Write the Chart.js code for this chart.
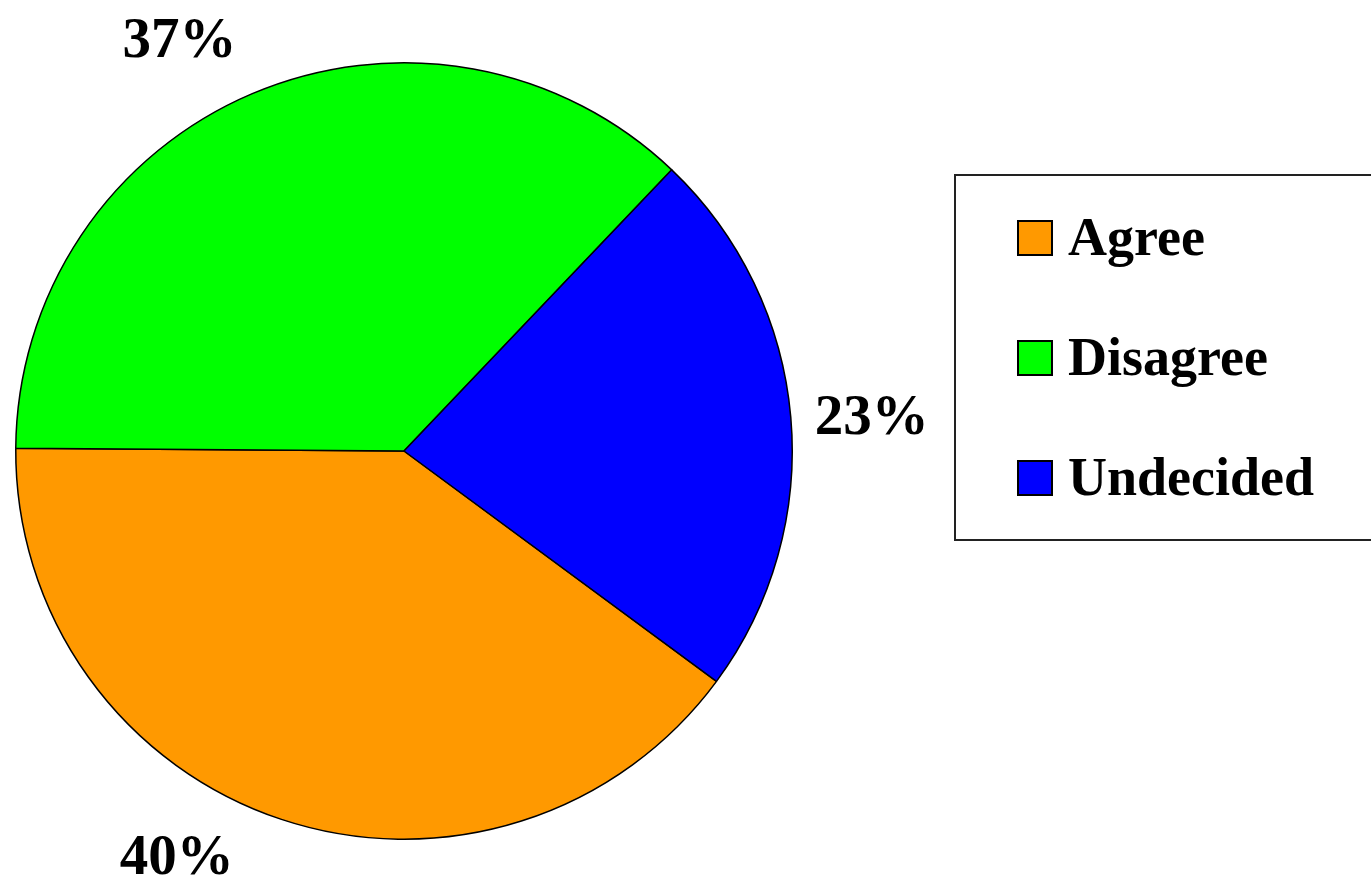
<!DOCTYPE html>
<html>
<head>
<meta charset="utf-8">
<script src="https://cdn.jsdelivr.net/npm/chart.js@4"></script>
<style>
  html, body { margin: 0; padding: 0; background: #ffffff; }
  #wrap { width: 1371px; height: 883px; }
</style>
</head>
<body>
<div id="wrap"><canvas id="pie" width="1371" height="883"></canvas></div>
<script>
// data
const categories = ["Agree", "Disagree", "Undecided"];
const shares = [40, 37, 23];
const colors = ["#ff9900", "#00ff00", "#0000ff"];

const labelFont = "bold 57px 'Liberation Serif', 'Times New Roman', serif";
const legendFont = "bold 54px 'Liberation Serif', 'Times New Roman', serif";

// percent labels outside each slice
const outsideLabels = {
  id: "outsideLabels",
  afterDraw(chart) {
    const ctx = chart.ctx;
    const meta = chart.getDatasetMeta(0);
    ctx.save();
    ctx.font = labelFont;
    ctx.fillStyle = "#000000";
    ctx.textBaseline = "middle";
    meta.data.forEach((arc, i) => {
      const p = arc.getProps(["x", "y", "startAngle", "endAngle", "outerRadius"], true);
      const mid = (p.startAngle + p.endAngle) / 2;
      const d = p.outerRadius + 30;
      const cx = Math.cos(mid), cy = Math.sin(mid);
      const ax = p.x + cx * d;
      const ay = p.y + cy * d;
      const below = Math.max(cy, 0);
      ctx.textAlign = cx >= 0 ? "left" : "right";
      const dx = cx < 0 ? -4 - 36 * below : -6;
      const dy = (cy < 0 ? cy * 26 : cy * 12) + 8 * (1 - Math.abs(cy));
      ctx.fillText(shares[i] + "%", ax + dx, ay + dy);
    });
    ctx.restore();
  }
};

// boxed legend on the right
const boxLegend = {
  id: "boxLegend",
  afterDraw(chart) {
    const ctx = chart.ctx;
    ctx.save();
    ctx.lineWidth = 2;
    ctx.strokeStyle = "#222222";
    ctx.strokeRect(955, 175, 430, 365);
    ctx.font = legendFont;
    ctx.textAlign = "left";
    ctx.textBaseline = "middle";
    categories.forEach((name, i) => {
      const y = 238 + i * 120;
      ctx.fillStyle = colors[i];
      ctx.fillRect(1018, y - 17, 34, 34);
      ctx.strokeStyle = "#000000";
      ctx.lineWidth = 2;
      ctx.strokeRect(1018, y - 17, 34, 34);
      ctx.fillStyle = "#000000";
      ctx.fillText(name, 1068, y + 3);
    });
    ctx.restore();
  }
};

new Chart(document.getElementById("pie").getContext("2d"), {
  type: "pie",
  data: {
    labels: categories,
    datasets: [{
      data: shares,
      backgroundColor: colors,
      borderColor: "#000000",
      borderWidth: 1.5
    }]
  },
  options: {
    responsive: false,
    animation: false,
    rotation: 126.4,
    layout: { padding: { left: 15, top: 62, right: 578, bottom: 43 } },
    plugins: {
      legend: { display: false },
      tooltip: { enabled: false }
    }
  },
  plugins: [outsideLabels, boxLegend]
});
</script>
</body>
</html>
